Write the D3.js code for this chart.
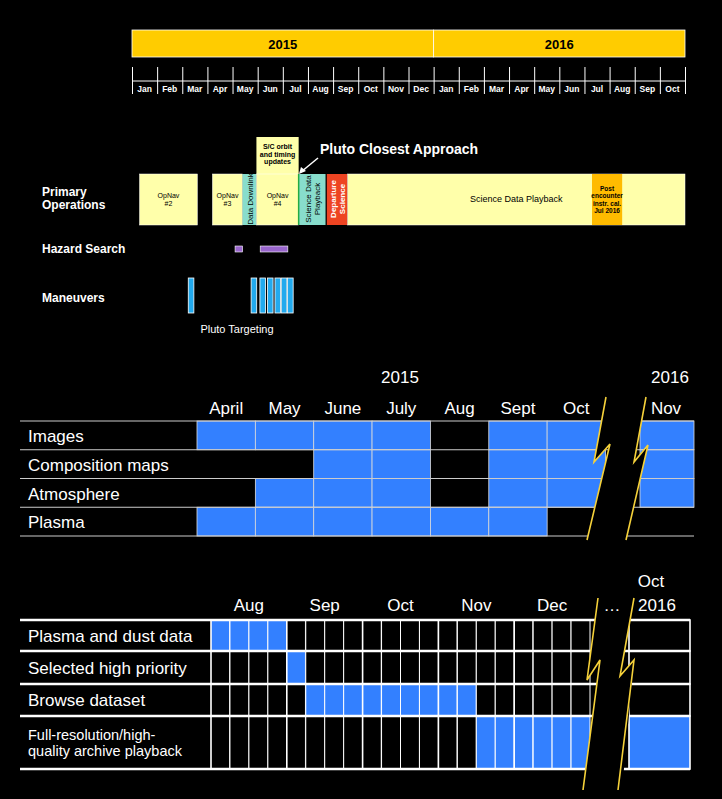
<!DOCTYPE html><html><head><meta charset="utf-8"><script src="https://cdn.jsdelivr.net/npm/d3@7"></script>
<style>body{margin:0;background:#000}svg{display:block}</style></head><body><svg id="c" width="722" height="799"></svg>
<script>
const years=["2015","2016"];
const months=["Jan","Feb","Mar","Apr","May","Jun","Jul","Aug","Sep","Oct","Nov","Dec","Jan","Feb","Mar","Apr","May","Jun","Jul","Aug","Sep","Oct"];
// primary operations: [start month, end month, label, kind]
const primaryOps=[[0.3,2.6,"OpNav\n#2","y"],[3.2,4.4,"OpNav\n#3","y"],[4.4,4.95,"Data Downlink","c"],[4.95,6.63,"OpNav\n#4","y"],[6.63,7.7,"Science Data\nPlayback","c"],[7.75,8.58,"Departure\nScience","r"],[8.58,22,"Science Data Playback","y"],[18.3,19.5,"Post\nencounter\ninstr. cal.\nJul 2016","o"]];
const hazard=[[4.1,4.4],[5.1,6.2]];
const maneuvers=[2.35,4.85,5.2,5.5,5.8,6.05,6.3];
const gridA_cols=["April","May","June","July","Aug","Sept","Oct","Nov"];
const gridA_rows=["Images","Composition maps","Atmosphere","Plasma"];
const gridA_vals=[[1,1,1,1,0,1,1,1],[0,0,1,1,0,1,1,1],[0,1,1,1,0,1,1,1],[1,1,1,1,1,1,0,0]];
const gridB_months=["Aug","Sep","Oct","Nov","Dec"];
const gridB_rows=["Plasma and dust data","Selected high priority","Browse dataset","Full-resolution/high-\nquality archive playback"];
// 20 weekly cells Aug–Dec + Oct 2016
const gridB_vals=[
[1,1,1,1, 0,0,0,0, 0,0,0,0, 0,0,0,0, 0,0,0,0, 0],
[0,0,0,0, 1,0,0,0, 0,0,0,0, 0,0,0,0, 0,0,0,0, 0],
[0,0,0,0, 0,1,1,1, 1,1,1,1, 1,1,0,0, 0,0,0,0, 0],
[0,0,0,0, 0,0,0,0, 0,0,0,0, 0,0,1,1, 1,1,1,1, 1]];

const svg=d3.select("#c"), F="Liberation Sans, Arial, sans-serif", BLUE="#3380ff", YEL="#f5d13a";
// top timeline
const x=d3.scaleLinear().domain([0,22]).range([132,685]);
years.forEach((y,i)=>{const a=x(i*12),b=x(Math.min(22,i*12+12));
 svg.append("rect").attr("x",a).attr("y",30).attr("width",b-a).attr("height",27).attr("fill","#ffcc00").attr("stroke","#fff").attr("stroke-width",0.8);
 svg.append("text").attr("x",(a+b)/2).attr("y",49).attr("text-anchor","middle").attr("font-family",F).attr("font-weight","bold").attr("font-size",13).text(y);});
const ax=svg.append("g").attr("transform","translate(0,81)").call(d3.axisBottom(x).tickValues(d3.range(23)).tickSize(13).tickFormat(""));
ax.selectAll("line,path").attr("stroke","#fff");ax.select("path").attr("d","M132,0H685");
ax.selectAll(".tick line").attr("y1",-14);
months.forEach((m,i)=>svg.append("text").attr("x",x(i+0.5)).attr("y",92).attr("text-anchor","middle").attr("fill","#fff").attr("font-family",F).attr("font-weight","bold").attr("font-size",8.5).text(m));
// labels
const lab=(t,xx,yy,s,opt={})=>{const el=svg.append("text").attr("x",xx).attr("y",yy).attr("fill",opt.fill||"#fff").attr("font-family",F).attr("font-size",s).attr("font-weight",opt.w||"normal").attr("text-anchor",opt.a||"start");
 t.split("\n").forEach((l,i)=>el.append("tspan").attr("x",xx).attr("dy",i?s*1.1:0).text(l));return el;};
lab("Primary\nOperations",42,196,12,{w:"bold"});lab("Hazard Search",42,253,12,{w:"bold"});lab("Maneuvers",42,302,12,{w:"bold"});
lab("Pluto Targeting",237,333,11,{a:"middle"});
// S/C box
svg.append("rect").attr("x",x(4.95)).attr("y",137).attr("width",x(6.63)-x(4.95)).attr("height",37).attr("fill","#ffffaa");
lab("S/C orbit\nand timing\nupdates",(x(4.95)+x(6.63))/2,149,7,{a:"middle",fill:"#000",w:"bold"});
lab("Pluto Closest Approach",320,154,14,{w:"bold"});
svg.append("line").attr("x1",318).attr("y1",158).attr("x2",301).attr("y2",172).attr("stroke","#fff").attr("stroke-width",1.5);
svg.append("path").attr("d","M299,174l2,-7l5,4z").attr("fill","#fff");
const col={y:"#ffffaa",c:"#88ddcc",r:"#ee4422",o:"#ffbb00"};
primaryOps.forEach(([s,e,t,k])=>{const a=x(s),b=x(e);
 svg.append("rect").attr("x",a).attr("y",174).attr("width",b-a).attr("height",51).attr("fill",col[k]).attr("stroke",k==="y"?"#fff":"none").attr("stroke-width",0.5);
 const cx=(a+b)/2;
 if(k==="c"||k==="r"){const lines=t.split("\n");const g=svg.append("g").attr("transform",`translate(${cx},199) rotate(-90)`);
  lines.forEach((l,i)=>g.append("text").attr("x",0).attr("y",(i-(lines.length-1)/2)*9+3).attr("text-anchor","middle").attr("font-family",F).attr("font-size",8).attr("font-weight",k==="r"?"bold":"normal").attr("fill",k==="r"?"#fff":"#000").text(l));}
 else{const lines=t.split("\n");const s=k==="o"?6.5:(lines.length===1?9:7);
  lab(t,cx,199-(lines.length-1)*s*0.55+3,s,{a:"middle",fill:"#000",w:k==="o"?"bold":"normal"});}
});
svg.append("line").attr("x1",x(6.63)).attr("x2",x(6.63)).attr("y1",174).attr("y2",225).attr("stroke","#22aa44").attr("stroke-width",1.5);
hazard.forEach(([s,e])=>svg.append("rect").attr("x",x(s)).attr("y",246).attr("width",x(e)-x(s)).attr("height",6).attr("fill","#9966cc").attr("stroke","#fff").attr("stroke-width",0.6));
maneuvers.forEach(m=>svg.append("rect").attr("x",x(m)-2.8).attr("y",278).attr("width",5.6).attr("height",35).attr("fill","#22aaee").attr("stroke","#fff").attr("stroke-width",0.8));

// lightning
const bolt=(pts)=>svg.append("path").attr("d",d3.line()(pts)).attr("fill","none").attr("stroke",YEL).attr("stroke-width",1.6);
// grid A
const xa=d3.scaleBand().domain(gridA_cols.slice(0,7)).range([197,605.5]).paddingInner(0);
const ya=d3.scaleBand().domain(gridA_rows).range([421,536]);
gridA_rows.forEach((r,ri)=>{gridA_vals[ri].forEach((v,ci)=>{
 let a,w; if(ci<7){a=xa(gridA_cols[ci]);w=xa.bandwidth();}else{a=640;w=54;}
 if(v)svg.append("rect").attr("x",a).attr("y",ya(r)).attr("width",w).attr("height",ya.bandwidth()).attr("fill",BLUE).attr("stroke","#ddd").attr("stroke-width",0.8);});
 lab(r,28,ya(r)+21,17);});
ya.domain().concat(["end"]).forEach((r,i)=>{const yy=421+i*ya.bandwidth();svg.append("line").attr("x1",20).attr("x2",694).attr("y1",yy).attr("y2",yy).attr("stroke","#ccc").attr("stroke-width",1.2);});
svg.append("path").attr("d","M606,397L594,462L610,444L587,540L626,540L648,445L634,462L646,397Z").attr("fill","#000");
bolt([[606,397],[594,462],[610,444],[587,540]]);bolt([[646,397],[634,462],[648,445],[626,540]]);
gridA_cols.forEach((c,i)=>lab(c,i<7?xa(c)+xa.bandwidth()/2:666,414,17,{a:"middle"}));
lab("2015",400,383,17,{a:"middle"});lab("2016",670,383,17,{a:"middle"});

// grid B
const xb=d3.scaleLinear().domain([0,20]).range([211,590]);
const rowsB=[620,651,684,716,769];
gridB_rows.forEach((r,ri)=>{const y0=rowsB[ri],y1=rowsB[ri+1];
 gridB_vals[ri].forEach((v,ci)=>{let a,w; if(ci<20){a=xb(ci);w=xb(1)-xb(0);}else{a=629;w=61;}
  svg.append("rect").attr("x",a).attr("y",y0).attr("width",w).attr("height",y1-y0).attr("fill",v?BLUE:"#000").attr("stroke","#fff").attr("stroke-width",ci%4===0?1.6:1);});
 const lines=r.split("\n");
 if(lines.length===1)lab(r,28,y0+(y1-y0)/2+6,17);else lab(r,28,y0+24,14.5);});
rowsB.forEach(yy=>svg.append("line").attr("x1",20).attr("x2",690).attr("y1",yy).attr("y2",yy).attr("stroke","#fff").attr("stroke-width",2.5));
svg.append("path").attr("d","M598,598L587,680L600,660L583,790L622,790L634,660L620,676L634,598Z").attr("fill","#000");
bolt([[598,598],[587,680],[600,660],[583,790]]);bolt([[634,598],[620,676],[634,660],[618,790]]);
gridB_months.forEach((m,i)=>lab(m,xb(i*4+2),611,17,{a:"middle"}));
lab("…",612,611,17,{a:"middle"});lab("Oct",651,587,17,{a:"middle"});lab("2016",657,611,17,{a:"middle"});
</script></body></html>
